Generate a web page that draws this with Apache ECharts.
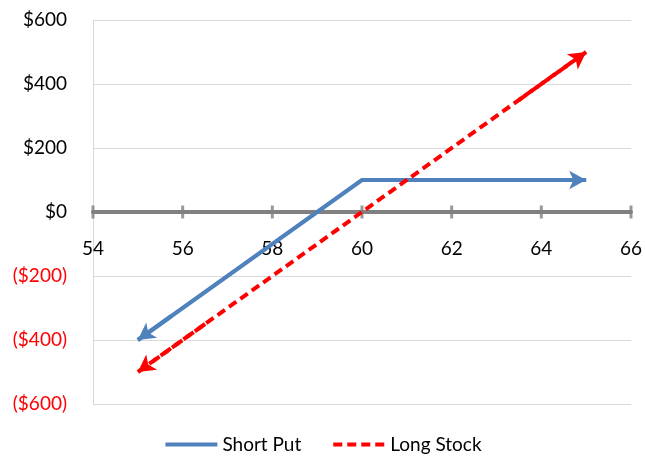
<!DOCTYPE html>
<html><head><meta charset="utf-8">
<script src="https://cdn.jsdelivr.net/npm/echarts@6/dist/echarts.min.js"></script>
<style>html,body{margin:0;padding:0;background:#fff}#c{width:645px;height:460px}</style>
</head><body><div id="c"></div>
<script>
const seriesNames = ['Short Put', 'Long Stock'];
const shortPut = [[55, -400], [60, 100], [65, 100]];
const longStock = [[55, -500], [65, 500]];
const xTicks = [54, 56, 58, 60, 62, 64, 66];
const yTicks = [-600, -400, -200, 0, 200, 400, 600];

const FONT = 'Lato, "Open Sans", sans-serif';
const FS = 19;
const GRID = { left: 93, right: 10, top: 20, bottom: 56 };
const plotH = 460 - GRID.top - GRID.bottom;
function fmtY(v) {
  return v < 0 ? '{n|($' + Math.abs(v) + ')}' : '{p|$' + v + '}';
}
function arrowLines(pts, style) {
  const a = pts[0], b = pts[1];
  const n = pts.length;
  const y = pts[n - 2], z = pts[n - 1];
  const ms = (p, q) => [{ coord: [p[0] + (q[0] - p[0]) * 0.15, p[1] + (q[1] - p[1]) * 0.15] }, { coord: p }];
  return {
    silent: true, symbol: ['none', 'arrow'], symbolSize: [14, 17],
    label: { show: false }, lineStyle: style,
    data: [ms(a, b), ms(z, y)]
  };
}
const blueStyle = { color: '#4F81BD', width: 4, type: 'solid' };
const redStyle = { color: '#FF0000', width: 4, type: [9, 5] };

const chart = echarts.init(document.getElementById('c'));
chart.setOption({
  animation: false,
  grid: GRID,
  legend: {
    bottom: 1, left: 'center', itemWidth: 52, itemHeight: 4, itemGap: 30,
    lineStyle: { width: 4 },
    itemStyle: { opacity: 0 },
    textStyle: { fontFamily: FONT, fontSize: FS, color: '#000' },
    data: seriesNames
  },
  xAxis: {
    type: 'value', min: xTicks[0], max: xTicks[xTicks.length - 1], interval: 2,
    offset: -plotH / 2,
    axisLine: { onZero: false, lineStyle: { color: '#808080', width: 4 } },
    axisTick: { show: false },
    axisLabel: { margin: 27, fontFamily: FONT, fontSize: FS, color: '#000' },
    splitLine: { show: false }
  },
  yAxis: {
    type: 'value', min: yTicks[0], max: yTicks[yTicks.length - 1], interval: 200,
    axisLine: { show: true, onZero: false, lineStyle: { color: '#d9d9d9', width: 1 } },
    axisTick: { show: false },
    axisLabel: {
      margin: 26, formatter: fmtY,
      rich: {
        p: { color: '#000', fontFamily: FONT, fontSize: FS },
        n: { color: '#FF0000', fontFamily: FONT, fontSize: FS }
      }
    },
    splitLine: { lineStyle: { color: '#d9d9d9', width: 1 } }
  },
  series: [{
    name: 'ticks', type: 'scatter', silent: true, z: 2,
    data: xTicks.map(x => [x, 0]),
    symbol: 'rect', symbolSize: [3, 13], itemStyle: { color: '#808080' }
  }, {
    name: seriesNames[0], type: 'line', data: shortPut, symbol: 'none',
    lineStyle: blueStyle, itemStyle: { color: '#4F81BD' },
    markLine: arrowLines(shortPut, blueStyle), z: 3
  }, {
    name: seriesNames[1], type: 'line', data: longStock, symbol: 'none',
    lineStyle: redStyle, itemStyle: { color: '#FF0000' },
    markLine: arrowLines(longStock, redStyle), z: 4
  }]
});
</script></body></html>
